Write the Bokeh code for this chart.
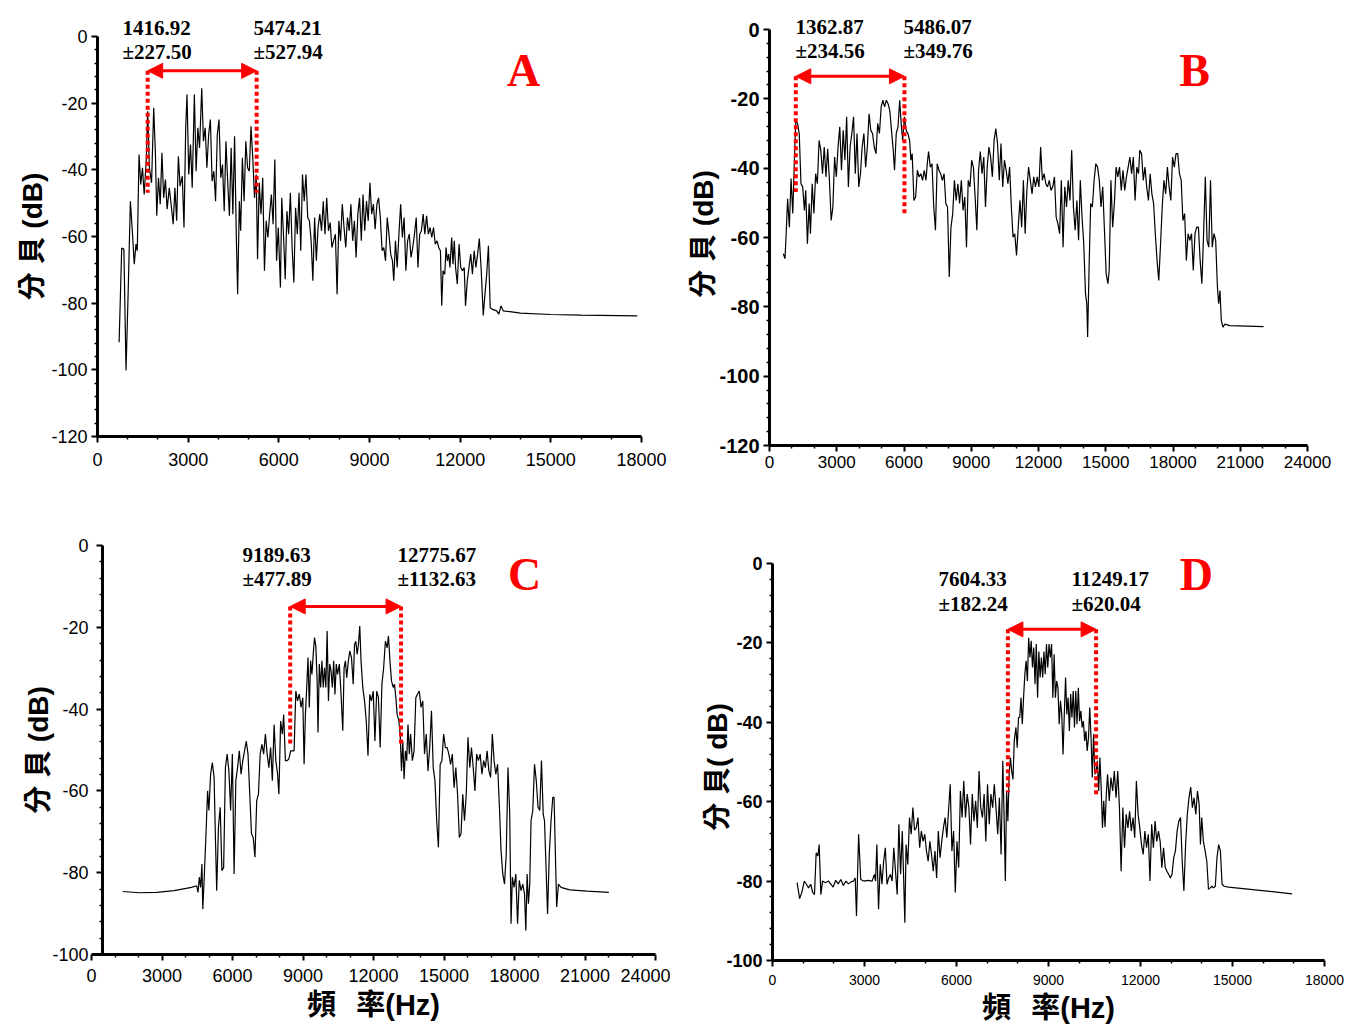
from bokeh.plotting import figure
from bokeh.models import Range1d, Label, Arrow, NormalHead, FixedTicker, LinearAxis
from bokeh.layouts import column, row
from bokeh.embed import file_html
from bokeh.resources import INLINE

# ---------------- data ----------------
A_FREQ = [
    715, 801, 873, 944, 1016, 1088, 1159, 1216, 1273, 1316,
    1374, 1431, 1488, 1545, 1617, 1660, 1717, 1789, 1860, 1917,
    1960, 2018, 2075, 2132, 2189, 2247, 2304, 2376, 2447, 2504,
    2562, 2619, 2676, 2733, 2805, 2862, 2919, 2962, 3019, 3077,
    3134, 3205, 3263, 3320, 3377, 3449, 3506, 3563, 3620, 3678,
    3735, 3792, 3850, 3907, 3964, 4021, 4078, 4136, 4193, 4250,
    4307, 4365, 4422, 4479, 4536, 4594, 4637, 4694, 4737, 4794,
    4851, 4908, 4966, 5023, 5080, 5137, 5195, 5252, 5295, 5352,
    5409, 5467, 5524, 5581, 5639, 5696, 5753, 5810, 5867, 5925,
    5982, 6053, 6096, 6153, 6211, 6268, 6325, 6382, 6440, 6497,
    6554, 6611, 6669, 6726, 6783, 6840, 6897, 6955, 7012, 7069,
    7126, 7184, 7241, 7298, 7355, 7413, 7470, 7527, 7584, 7642,
    7699, 7756, 7813, 7871, 7928, 7985, 8042, 8099, 8157, 8214,
    8271, 8328, 8385, 8443, 8500, 8557, 8614, 8671, 8729, 8786,
    8843, 8900, 8958, 9015, 9072, 9129, 9187, 9244, 9301, 9358,
    9416, 9473, 9530, 9587, 9644, 9702, 9759, 9802, 9859, 9916,
    9974, 10031, 10088, 10145, 10203, 10260, 10317, 10374, 10431, 10489,
    10546, 10603, 10660, 10718, 10775, 10832, 10889, 10947, 11004, 11061,
    11118, 11176, 11233, 11290, 11347, 11390, 11433, 11490, 11533, 11576,
    11619, 11662, 11719, 11762, 11805, 11848, 11906, 11963, 12020, 12077,
    12134, 12177, 12235, 12292, 12349, 12406, 12463, 12521, 12578, 12635,
    12692, 12764, 12821, 12878, 12935, 12993, 13050, 13208, 13280, 13351,
    13423, 14000, 15000, 16000, 17859]
A_DB = [
    -91.7, -63.5, -63.8, -100.2, -76.3, -49.4, -59.3, -68.3, -62.3, -64.3,
    -35.4, -44.4, -39.4, -47.4, -36.4, -22.4, -39.4, -43.9, -21.4, -35.4,
    -53.8, -42.4, -50.3, -34.9, -48.4, -42.9, -51.8, -45.4, -51.3, -56.3,
    -45.4, -55.3, -35.9, -44.9, -41.9, -57.3, -27.4, -17.4, -41.4, -32.4,
    -45.4, -17.4, -40.4, -27.4, -33.4, -15.5, -31.4, -27.4, -39.4, -29.4,
    -24.9, -43.4, -40.4, -49.4, -29.4, -24.9, -42.4, -38.4, -52.4, -31.4,
    -43.4, -53.8, -33.4, -53.3, -29.9, -60.3, -77.3, -49.4, -58.3, -36.4,
    -49.4, -31.4, -39.4, -40.4, -26.9, -36.4, -48.4, -41.4, -66.8, -43.9,
    -53.3, -42.4, -70.3, -55.3, -60.3, -53.3, -47.4, -56.3, -36.9, -67.3,
    -57.3, -75.3, -48.4, -59.3, -72.8, -52.4, -59.3, -46.9, -63.3, -73.8,
    -51.4, -59.3, -46.9, -64.3, -41.4, -49.4, -41.4, -54.3, -55.3, -61.3,
    -73.3, -54.3, -67.3, -57.3, -53.3, -58.3, -49.4, -59.3, -48.4, -58.3,
    -55.8, -63.3, -61.3, -59.3, -77.3, -55.3, -61.3, -50.3, -57.3, -63.3,
    -54.3, -58.3, -50.3, -61.3, -55.3, -66.3, -53.3, -48.4, -61.3, -47.4,
    -58.3, -49.4, -55.3, -43.9, -53.3, -50.3, -57.8, -50.3, -48.4, -54.3,
    -64.3, -63.3, -67.3, -54.3, -59.3, -65.3, -67.3, -73.3, -61.3, -69.3,
    -59.3, -50.3, -60.3, -54.3, -70.3, -61.3, -59.3, -66.3, -63.3, -59.3,
    -54.3, -69.3, -59.3, -58.3, -53.3, -59.3, -53.8, -59.3, -57.3, -60.3,
    -57.3, -62.3, -61.3, -63.3, -64.3, -80.8, -70.3, -71.3, -63.3, -67.3,
    -65.3, -69.3, -60.3, -68.3, -61.3, -69.3, -74.3, -62.3, -69.3, -70.3,
    -69.3, -80.8, -73.3, -69.3, -65.3, -71.3, -64.3, -69.3, -65.3, -60.6,
    -69.3, -83.7, -77.3, -71.3, -62.8, -81.3, -81.8, -82.3, -83.3, -80.8,
    -82.3, -83.0, -83.4, -83.6, -83.8]

B_FREQ = [
    615, 692, 750, 808, 885, 962, 1038, 1115, 1173, 1250,
    1327, 1404, 1481, 1558, 1615, 1692, 1769, 1827, 1904, 1981,
    2058, 2135, 2212, 2288, 2365, 2442, 2519, 2596, 2673, 2750,
    2827, 2904, 2981, 3058, 3134, 3211, 3288, 3365, 3442, 3519,
    3596, 3673, 3750, 3827, 3904, 3981, 4058, 4134, 4211, 4288,
    4365, 4442, 4519, 4596, 4673, 4750, 4827, 4904, 4981, 5058,
    5134, 5211, 5288, 5365, 5442, 5519, 5577, 5654, 5731, 5808,
    5885, 5942, 6019, 6096, 6173, 6250, 6308, 6365, 6442, 6519,
    6596, 6673, 6750, 6827, 6904, 6981, 7038, 7096, 7173, 7250,
    7327, 7404, 7481, 7558, 7635, 7712, 7788, 7865, 7942, 8019,
    8096, 8173, 8250, 8327, 8404, 8481, 8558, 8635, 8712, 8788,
    8865, 8942, 9019, 9096, 9173, 9250, 9327, 9404, 9481, 9558,
    9635, 9712, 9788, 9865, 9942, 10019, 10096, 10173, 10250, 10327,
    10404, 10481, 10558, 10635, 10712, 10788, 10865, 10942, 11019, 11096,
    11173, 11250, 11327, 11404, 11481, 11558, 11635, 11712, 11788, 11865,
    11942, 12019, 12096, 12173, 12250, 12327, 12404, 12481, 12558, 12635,
    12712, 12788, 12865, 12942, 13019, 13096, 13173, 13250, 13327, 13404,
    13481, 13558, 13635, 13712, 13788, 13865, 13942, 14019, 14096, 14154,
    14192, 14250, 14327, 14404, 14481, 14558, 14635, 14712, 14788, 14865,
    14942, 15019, 15096, 15154, 15231, 15308, 15385, 15461, 15538, 15615,
    15692, 15769, 15846, 15923, 16000, 16077, 16154, 16231, 16308, 16385,
    16461, 16519, 16596, 16673, 16750, 16827, 16904, 16981, 17058, 17135,
    17211, 17288, 17365, 17442, 17519, 17596, 17673, 17750, 17827, 17904,
    17981, 18058, 18135, 18211, 18288, 18365, 18442, 18519, 18596, 18673,
    18750, 18827, 18904, 18981, 19058, 19135, 19211, 19288, 19365, 19442,
    19519, 19596, 19673, 19750, 19827, 19904, 19981, 20038, 20096, 20154,
    20231, 20308, 20538, 22038]
B_DB = [
    -64.7, -66.1, -57.9, -48.8, -57.0, -43.0, -53.1, -36.8, -26.2, -27.1,
    -30.0, -44.5, -45.4, -52.2, -46.4, -61.8, -50.2, -58.9, -44.5, -53.1,
    -41.6, -44.5, -32.0, -34.8, -41.6, -33.9, -42.5, -34.4, -43.5, -55.1,
    -51.2, -36.8, -42.5, -33.9, -28.1, -40.6, -29.1, -37.7, -25.2, -45.4,
    -33.9, -30.0, -25.2, -41.6, -30.0, -45.4, -41.6, -33.9, -30.0, -39.7,
    -33.9, -24.3, -29.1, -30.0, -33.9, -35.8, -27.1, -30.0, -22.3, -20.4,
    -22.3, -20.4, -21.4, -23.3, -29.1, -34.8, -40.6, -30.0, -28.1, -20.4,
    -28.1, -32.0, -25.2, -29.1, -30.0, -32.0, -37.7, -35.8, -49.3, -48.3,
    -40.6, -42.5, -41.6, -43.5, -40.6, -43.5, -38.7, -35.2, -39.7, -38.7,
    -51.2, -57.9, -38.7, -40.6, -41.6, -43.5, -41.6, -50.2, -51.2, -71.4,
    -57.0, -53.1, -43.5, -49.3, -44.5, -50.2, -43.5, -52.2, -48.3, -62.8,
    -43.5, -45.4, -37.7, -39.7, -48.3, -57.9, -40.6, -35.2, -41.6, -36.8,
    -51.2, -39.7, -33.9, -36.8, -42.5, -32.0, -28.6, -32.9, -43.5, -32.9,
    -45.4, -37.7, -40.6, -44.5, -39.7, -51.2, -59.9, -58.9, -65.2, -57.0,
    -49.3, -57.0, -43.5, -58.9, -46.4, -39.7, -43.5, -47.4, -42.5, -45.4,
    -42.5, -45.4, -33.9, -43.5, -41.6, -44.5, -45.4, -43.5, -46.4, -45.4,
    -42.5, -54.1, -56.0, -58.9, -43.5, -62.8, -45.4, -51.2, -43.5, -49.3,
    -34.8, -51.2, -57.9, -49.3, -60.8, -43.5, -54.1, -61.8, -76.2, -79.1,
    -88.7, -70.5, -50.2, -51.2, -43.5, -38.7, -39.7, -43.5, -51.2, -45.4,
    -57.9, -70.5, -73.3, -69.5, -43.5, -57.0, -50.2, -39.7, -42.5, -39.7,
    -46.4, -40.6, -46.4, -42.5, -39.7, -36.8, -41.6, -36.8, -49.3, -39.7,
    -41.6, -34.8, -35.8, -43.5, -39.7, -45.4, -49.3, -41.6, -47.4, -50.2,
    -58.9, -66.6, -72.4, -62.3, -51.2, -43.5, -47.4, -39.7, -45.4, -49.3,
    -36.8, -39.7, -35.8, -35.8, -41.6, -43.5, -55.1, -53.1, -66.6, -58.9,
    -60.8, -58.9, -69.5, -58.9, -57.0, -57.0, -66.6, -73.3, -58.9, -42.5,
    -60.8, -62.8, -43.5, -62.8, -58.9, -60.8, -74.3, -79.1, -75.3, -83.9,
    -85.9, -85.0, -85.4, -85.7]

C_FREQ = [
    1332, 2035, 2775, 3515, 4255, 4477, 4533, 4588, 4644, 4699,
    4736, 4792, 4866, 4940, 4995, 5069, 5143, 5217, 5273, 5328,
    5402, 5476, 5550, 5624, 5698, 5772, 5846, 5920, 5994, 6068,
    6142, 6216, 6290, 6364, 6438, 6512, 6586, 6660, 6734, 6808,
    6882, 6956, 7030, 7104, 7178, 7252, 7326, 7400, 7474, 7548,
    7622, 7696, 7770, 7844, 7918, 7974, 8048, 8122, 8177, 8251,
    8325, 8399, 8473, 8547, 8621, 8695, 8769, 8843, 8917, 8991,
    9047, 9102, 9158, 9213, 9269, 9324, 9380, 9435, 9491, 9546,
    9602, 9639, 9694, 9750, 9805, 9861, 9916, 9972, 10027, 10083,
    10138, 10194, 10249, 10305, 10360, 10416, 10471, 10545, 10619, 10693,
    10749, 10804, 10860, 10915, 10989, 11063, 11137, 11193, 11248, 11304,
    11359, 11415, 11470, 11544, 11618, 11692, 11766, 11840, 11914, 11988,
    12062, 12136, 12210, 12284, 12358, 12432, 12506, 12580, 12636, 12710,
    12765, 12839, 12895, 12950, 13006, 13080, 13135, 13191, 13246, 13302,
    13357, 13413, 13468, 13524, 13579, 13653, 13727, 13801, 13875, 13949,
    14023, 14097, 14171, 14245, 14319, 14393, 14467, 14541, 14615, 14689,
    14763, 14837, 14911, 14985, 15059, 15133, 15207, 15281, 15355, 15429,
    15503, 15577, 15651, 15725, 15799, 15873, 15947, 16021, 16095, 16169,
    16243, 16317, 16391, 16465, 16539, 16613, 16687, 16761, 16835, 16909,
    16983, 17057, 17131, 17205, 17279, 17353, 17427, 17501, 17575, 17649,
    17723, 17797, 17853, 17908, 17982, 18056, 18130, 18204, 18278, 18352,
    18426, 18482, 18537, 18593, 18648, 18704, 18778, 18852, 18926, 19000,
    19074, 19148, 19222, 19277, 19351, 19407, 19481, 19555, 19629, 19684,
    19740, 19795, 19869, 19980, 20350, 21090, 22015]
C_DB = [
    -84.6, -84.9, -84.8, -84.4, -83.6, -83.2, -84.8, -81.1, -83.6, -77.9,
    -88.9, -81.9, -71.4, -60.0, -64.8, -55.9, -53.1, -56.7, -71.4, -84.4,
    -68.9, -64.0, -79.5, -78.7, -54.3, -51.0, -55.1, -64.8, -51.0, -80.3,
    -57.5, -54.3, -50.2, -55.9, -52.6, -50.2, -47.8, -51.0, -60.8, -70.5,
    -71.4, -76.2, -62.4, -60.8, -51.0, -48.6, -51.0, -46.1, -51.0, -54.3,
    -49.4, -57.5, -43.8, -52.6, -55.9, -60.8, -42.9, -46.1, -41.3, -52.6,
    -52.6, -52.2, -50.2, -50.2, -50.2, -35.6, -38.0, -36.3, -39.6, -37.2,
    -53.5, -41.3, -34.7, -27.4, -39.6, -28.2, -31.5, -26.6, -22.5, -24.6,
    -33.1, -45.7, -29.0, -34.7, -28.2, -34.7, -29.9, -34.7, -20.9, -38.0,
    -29.0, -30.7, -34.7, -28.2, -36.4, -29.0, -31.5, -29.0, -36.4, -45.3,
    -29.9, -28.2, -32.3, -29.0, -25.8, -27.4, -33.9, -24.2, -23.4, -26.6,
    -24.2, -19.7, -28.2, -34.7, -38.0, -42.9, -51.4, -36.4, -38.0, -35.6,
    -47.8, -35.6, -37.2, -49.4, -33.9, -29.9, -23.4, -25.0, -22.1, -29.0,
    -33.1, -34.7, -33.9, -37.2, -41.3, -42.9, -46.1, -55.1, -47.8, -57.1,
    -50.2, -52.6, -43.8, -51.0, -46.1, -52.6, -50.2, -37.2, -36.3, -35.6,
    -39.6, -38.0, -51.0, -46.1, -55.1, -49.4, -40.4, -54.3, -57.5, -67.3,
    -73.8, -53.5, -52.6, -46.1, -49.4, -49.4, -51.0, -53.5, -51.0, -59.2,
    -54.3, -60.8, -71.4, -70.5, -60.8, -67.3, -60.8, -46.9, -54.3, -49.4,
    -54.3, -60.0, -51.0, -52.6, -51.0, -55.9, -52.6, -54.3, -50.2, -55.1,
    -56.7, -46.1, -52.6, -55.9, -53.5, -63.2, -74.6, -80.3, -82.8, -75.4,
    -54.3, -65.7, -92.5, -81.1, -83.6, -80.3, -92.5, -81.9, -84.4, -82.8,
    -85.2, -94.1, -80.3, -87.6, -82.8, -67.3, -64.8, -53.5, -57.5, -63.9,
    -64.8, -52.6, -65.7, -67.3, -80.3, -90.1, -75.4, -67.3, -61.6, -61.6,
    -75.4, -88.4, -82.8, -83.6, -84.2, -84.5, -84.8]

D_FREQ = [
    802, 885, 954, 1037, 1106, 1176, 1245, 1314, 1369, 1424,
    1480, 1521, 1577, 1632, 1729, 1826, 1909, 1978, 2061, 2144,
    2227, 2310, 2393, 2476, 2559, 2642, 2697, 2739, 2808, 2877,
    2974, 3112, 3250, 3320, 3361, 3403, 3458, 3513, 3568, 3624,
    3679, 3734, 3789, 3845, 3900, 3955, 4011, 4066, 4121, 4177,
    4232, 4273, 4315, 4356, 4412, 4467, 4522, 4578, 4633, 4688,
    4743, 4799, 4854, 4910, 4965, 5020, 5076, 5131, 5186, 5242,
    5297, 5352, 5407, 5463, 5518, 5573, 5629, 5684, 5739, 5795,
    5850, 5905, 5961, 6016, 6071, 6127, 6182, 6237, 6293, 6348,
    6403, 6458, 6514, 6569, 6624, 6680, 6735, 6790, 6846, 6901,
    6956, 7012, 7067, 7122, 7178, 7233, 7288, 7344, 7399, 7454,
    7510, 7551, 7593, 7634, 7676, 7717, 7759, 7800, 7842, 7883,
    7938, 7980, 8021, 8063, 8104, 8146, 8187, 8229, 8270, 8312,
    8353, 8395, 8436, 8478, 8519, 8561, 8602, 8644, 8685, 8727,
    8768, 8810, 8851, 8893, 8934, 8976, 9017, 9059, 9100, 9142,
    9183, 9225, 9266, 9308, 9349, 9391, 9432, 9474, 9515, 9557,
    9598, 9640, 9681, 9723, 9764, 9806, 9847, 9889, 9930, 9972,
    10013, 10055, 10096, 10138, 10179, 10221, 10262, 10304, 10345, 10387,
    10428, 10470, 10511, 10553, 10594, 10636, 10677, 10718, 10760, 10801,
    10843, 10884, 10926, 10981, 11036, 11092, 11147, 11202, 11258, 11313,
    11368, 11424, 11479, 11534, 11590, 11645, 11700, 11756, 11811, 11866,
    11922, 11977, 12032, 12088, 12143, 12198, 12254, 12309, 12364, 12420,
    12475, 12530, 12586, 12641, 12696, 12752, 12807, 12862, 12918, 12973,
    13028, 13084, 13139, 13194, 13250, 13305, 13360, 13415, 13471, 13526,
    13581, 13637, 13692, 13747, 13803, 13858, 13913, 13955, 13996, 14051,
    14107, 14162, 14217, 14273, 14328, 14383, 14439, 14494, 14549, 14605,
    14660, 14729, 14868, 16942]
D_DB = [
    -80.4, -84.4, -82.9, -80.0, -80.8, -81.7, -80.8, -82.9, -83.4, -72.9,
    -73.7, -70.8, -83.4, -80.0, -80.4, -80.0, -80.8, -81.5, -79.8, -80.7,
    -79.6, -81.1, -80.0, -80.7, -80.2, -80.0, -79.2, -88.8, -68.2, -79.6,
    -80.0, -79.8, -80.0, -78.3, -80.0, -70.8, -87.1, -75.8, -80.8, -75.0,
    -71.6, -80.8, -79.2, -78.3, -80.0, -71.6, -77.5, -83.4, -65.7, -78.3,
    -67.4, -78.3, -90.5, -70.8, -75.8, -64.0, -68.2, -61.5, -67.2, -66.6,
    -64.0, -71.6, -67.4, -70.0, -68.2, -72.4, -75.0, -70.0, -73.3, -77.5,
    -72.4, -79.2, -67.4, -74.1, -70.0, -66.6, -64.0, -69.1, -62.4, -55.6,
    -72.4, -67.4, -82.9, -70.0, -76.6, -57.3, -64.0, -54.8, -64.0, -58.1,
    -61.5, -70.8, -58.1, -64.9, -59.8, -66.6, -52.3, -61.5, -64.0, -58.1,
    -70.0, -55.6, -65.7, -58.1, -61.5, -55.6, -61.5, -68.2, -59.0, -73.3,
    -49.7, -63.2, -80.0, -57.3, -64.9, -53.1, -48.9, -52.3, -54.4, -44.7,
    -41.3, -46.4, -38.8, -38.8, -33.8, -40.5, -33.8, -27.9, -24.5, -29.6,
    -18.7, -23.7, -19.5, -26.2, -21.2, -30.4, -20.3, -33.8, -22.2, -28.7,
    -23.7, -28.7, -22.2, -27.9, -20.3, -26.2, -20.3, -23.7, -20.3, -33.8,
    -22.9, -33.8, -29.6, -31.3, -40.5, -34.6, -38.0, -48.1, -38.0, -28.7,
    -38.0, -33.8, -42.2, -32.9, -38.8, -32.1, -41.3, -32.1, -40.5, -31.3,
    -39.7, -37.1, -41.3, -39.7, -44.7, -42.2, -47.2, -43.9, -36.3, -43.9,
    -53.9, -43.0, -53.1, -52.3, -49.7, -57.3, -48.9, -56.5, -66.6, -59.8,
    -66.4, -58.2, -53.1, -59.8, -53.9, -57.3, -52.3, -59.0, -52.3, -61.5,
    -77.5, -61.5, -71.6, -63.2, -66.6, -62.4, -67.4, -64.0, -69.1, -54.8,
    -63.2, -66.6, -70.8, -73.3, -67.4, -71.6, -68.2, -80.0, -65.7, -71.6,
    -64.9, -70.0, -67.4, -70.0, -76.6, -71.6, -76.6, -77.5, -78.3, -79.2,
    -78.3, -74.1, -72.4, -67.4, -64.9, -64.0, -75.0, -82.5, -70.8, -63.2,
    -59.0, -56.3, -61.5, -59.0, -63.2, -57.3, -60.7, -70.8, -64.0, -70.0,
    -72.4, -75.0, -82.1, -81.7, -81.3, -81.7, -81.3, -74.1, -70.8, -72.4,
    -80.8, -81.3, -81.5, -83.2]

PANEL_LETTERS = ["A", "B", "C", "D"]
LOW_LABELS = [("1416.92", "±227.50"), ("1362.87", "±234.56"),
              ("9189.63", "±477.89"), ("7604.33", "±182.24")]
HIGH_LABELS = [("5474.21", "±527.94"), ("5486.07", "±349.76"),
               ("12775.67", "±1132.63"), ("11249.17", "±620.04")]
Y_LABELS = ["分 貝 (dB)", "分 貝 (dB)", "分 貝 (dB)", "分 貝( dB)"]
X_LABEL = "頻\u2002\u2009率(Hz)"

SANS = "Liberation Sans, Noto Sans CJK TC"
SERIF = "Liberation Serif"
RED = "#ff0000"


def style_axis(ax):
    ax.axis_line_width = 3
    ax.axis_line_color = "black"
    ax.major_tick_line_width = 2
    ax.major_tick_out = 6
    ax.major_tick_in = 0
    ax.minor_tick_line_width = 1.5
    ax.minor_tick_out = 3
    ax.minor_tick_in = 0
    ax.major_label_text_font = "Liberation Sans"
    ax.major_label_text_color = "black"


def make_panel(freq, db, letter, low, high, ylabel, xlabel, cfg):
    ymin = cfg["ymin"]
    p = figure(width=cfg["w"], height=cfg["h"], output_backend="svg",
               toolbar_location=None, title=None,
               x_range=Range1d(0, cfg["xmax"]),
               y_range=Range1d(ymin, cfg["ytop"]),
               min_border_left=cfg["bl"], min_border_right=cfg["br"],
               min_border_top=cfg["bt"], min_border_bottom=cfg["bb"])
    p.outline_line_color = None
    p.grid.visible = False
    p.background_fill_color = "white"
    p.border_fill_color = "white"

    xt = list(range(0, cfg["xmax"] + 1, 3000))
    xm = [v for v in range(0, cfg["xmax"] + 1, 1000) if v % 3000]
    yt = list(range(ymin, 1, 20))
    ym = [v for v in range(ymin, 1, 4) if v % 20]
    p.xaxis.ticker = FixedTicker(ticks=xt, minor_ticks=xm)
    p.yaxis.ticker = FixedTicker(ticks=yt, minor_ticks=ym)
    p.yaxis.major_label_overrides = {v: str(v) for v in yt}
    p.xaxis.major_label_overrides = {v: str(v) for v in xt}
    p.yaxis.bounds = (ymin, 0)

    style_axis(p.xaxis[0])
    style_axis(p.yaxis[0])
    p.xaxis.major_label_text_font_size = cfg["xfs"]
    p.yaxis.major_label_text_font_size = cfg["yfs"]
    p.yaxis.major_label_text_font_style = cfg["ystyle"]
    p.xaxis.major_label_standoff = cfg["xstand"]
    p.yaxis.major_label_standoff = 4

    p.yaxis.axis_label = ylabel
    p.yaxis.axis_label_text_font = SANS
    p.yaxis.axis_label_text_font_style = "bold"
    p.yaxis.axis_label_text_font_size = "28px"
    p.yaxis.axis_label_text_color = "black"
    p.yaxis.axis_label_standoff = cfg["ylstand"]
    if xlabel:
        p.xaxis.axis_label = xlabel
        p.xaxis.axis_label_text_font = SANS
        p.xaxis.axis_label_text_font_style = "bold"
        p.xaxis.axis_label_text_font_size = "29px"
        p.xaxis.axis_label_text_color = "black"
        p.xaxis.axis_label_standoff = cfg["xlstand"]

    if cfg.get("yfix") is not None:
        # vertical axis line sits slightly right of x = 0, as in the original
        prim = p.yaxis[0]
        prim.axis_line_color = None
        prim.major_tick_line_color = None
        prim.minor_tick_line_color = None
        prim.major_tick_out = 0
        prim.minor_tick_out = 0
        prim.major_label_standoff = 3
        ax2 = LinearAxis(fixed_location=cfg["yfix"], bounds=(ymin, 0),
                         ticker=FixedTicker(ticks=yt, minor_ticks=ym))
        style_axis(ax2)
        ax2.major_label_text_color = None
        ax2.major_label_standoff = 0
        p.add_layout(ax2, "left")

    p.line(freq, db, line_color="black", line_width=1.2)

    lx, rx, ay, lb, rb = cfg["band"]
    p.segment(x0=[lx, rx], y0=[ay, ay], x1=[lx, rx], y1=[lb, rb],
              line_color=RED, line_width=4, line_dash="4 3")
    p.add_layout(Arrow(x_start=lx, y_start=ay, x_end=rx, y_end=ay,
                       line_color=RED, line_width=3,
                       start=NormalHead(size=15, fill_color=RED, line_color=RED),
                       end=NormalHead(size=15, fill_color=RED, line_color=RED)))

    tlx, trx, ty1, ty2 = cfg["txt"]
    for x, pair in ((tlx, low), (trx, high)):
        for y, s in ((ty1, pair[0]), (ty2, pair[1])):
            p.add_layout(Label(x=x, y=y, text=s, text_font=SERIF,
                               text_font_style="bold", text_font_size="21px",
                               text_color="black", text_baseline="middle",
                               text_align="left"))
    lxp, lyp = cfg["letter"]
    p.add_layout(Label(x=lxp, y=lyp, text=letter, text_font=SERIF,
                       text_font_style="bold", text_font_size="46px",
                       text_color=RED, text_baseline="middle",
                       text_align="center"))
    return p


CFG = [
    dict(w=670, h=474, xmax=18000, ymin=-120, ytop=8.4, bl=97, br=29, bt=8, bb=38,
         xfs="18px", yfs="18px", ystyle="normal", ylstand=0, xlstand=0, xstand=10,
         band=(1660, 5266, -10.3, -46.9, -46.9), txt=(827, 5162, 2.7, -4.5),
         letter=(14097, -10.2)),
    dict(w=676, h=483, xmax=24000, ymin=-120, ytop=6.06, bl=99, br=39, bt=8, bb=38,
         xfs="17px", yfs="20px", ystyle="bold", ylstand=-3, xlstand=0, xstand=4,
         band=(1173, 6019, -13.5, -46.9, -53.9), txt=(1160, 5978, 0.6, -6.3),
         letter=(18959, -11.8)),
    dict(w=670, h=540, xmax=24000, ymin=-100, ytop=10.27, bl=91, br=15, bt=20, bb=69,
         xfs="18px", yfs="18px", ystyle="normal", ylstand=-5, xlstand=4, xstand=8,
         yfix=470,
         band=(8455, 13172, -14.9, -49.0, -48.4), txt=(6426, 13021, -2.4, -8.3),
         letter=(18426, -7.1)),
    dict(w=676, h=546, xmax=18000, ymin=-100, ytop=15.1, bl=102, br=22, bt=20, bb=69,
         xfs="14px", yfs="18px", ystyle="bold", ylstand=-10, xlstand=4, xstand=8,
         band=(7676, 10552, -16.6, -57.7, -58.2), txt=(5412, 9749, -4.0, -10.1),
         letter=(13825, -2.8)),
]

# trailing spaces shift the rotated label's centre toward the axis' lower part
Y_PAD = ["\u2003", "\u2002", "\u2003\u2002", "\u2003\u2003\u2002"]

DATA = [(A_FREQ, A_DB), (B_FREQ, B_DB), (C_FREQ, C_DB), (D_FREQ, D_DB)]
panels = []
for i in range(4):
    f, d = DATA[i]
    panels.append(make_panel(f, d, PANEL_LETTERS[i], LOW_LABELS[i], HIGH_LABELS[i],
                             Y_LABELS[i] + Y_PAD[i], X_LABEL if i >= 2 else None,
                             CFG[i]))

layout = column(row(panels[0], panels[1]), row(panels[2], panels[3]))
open("out.html", "w").write(file_html(layout, INLINE))
